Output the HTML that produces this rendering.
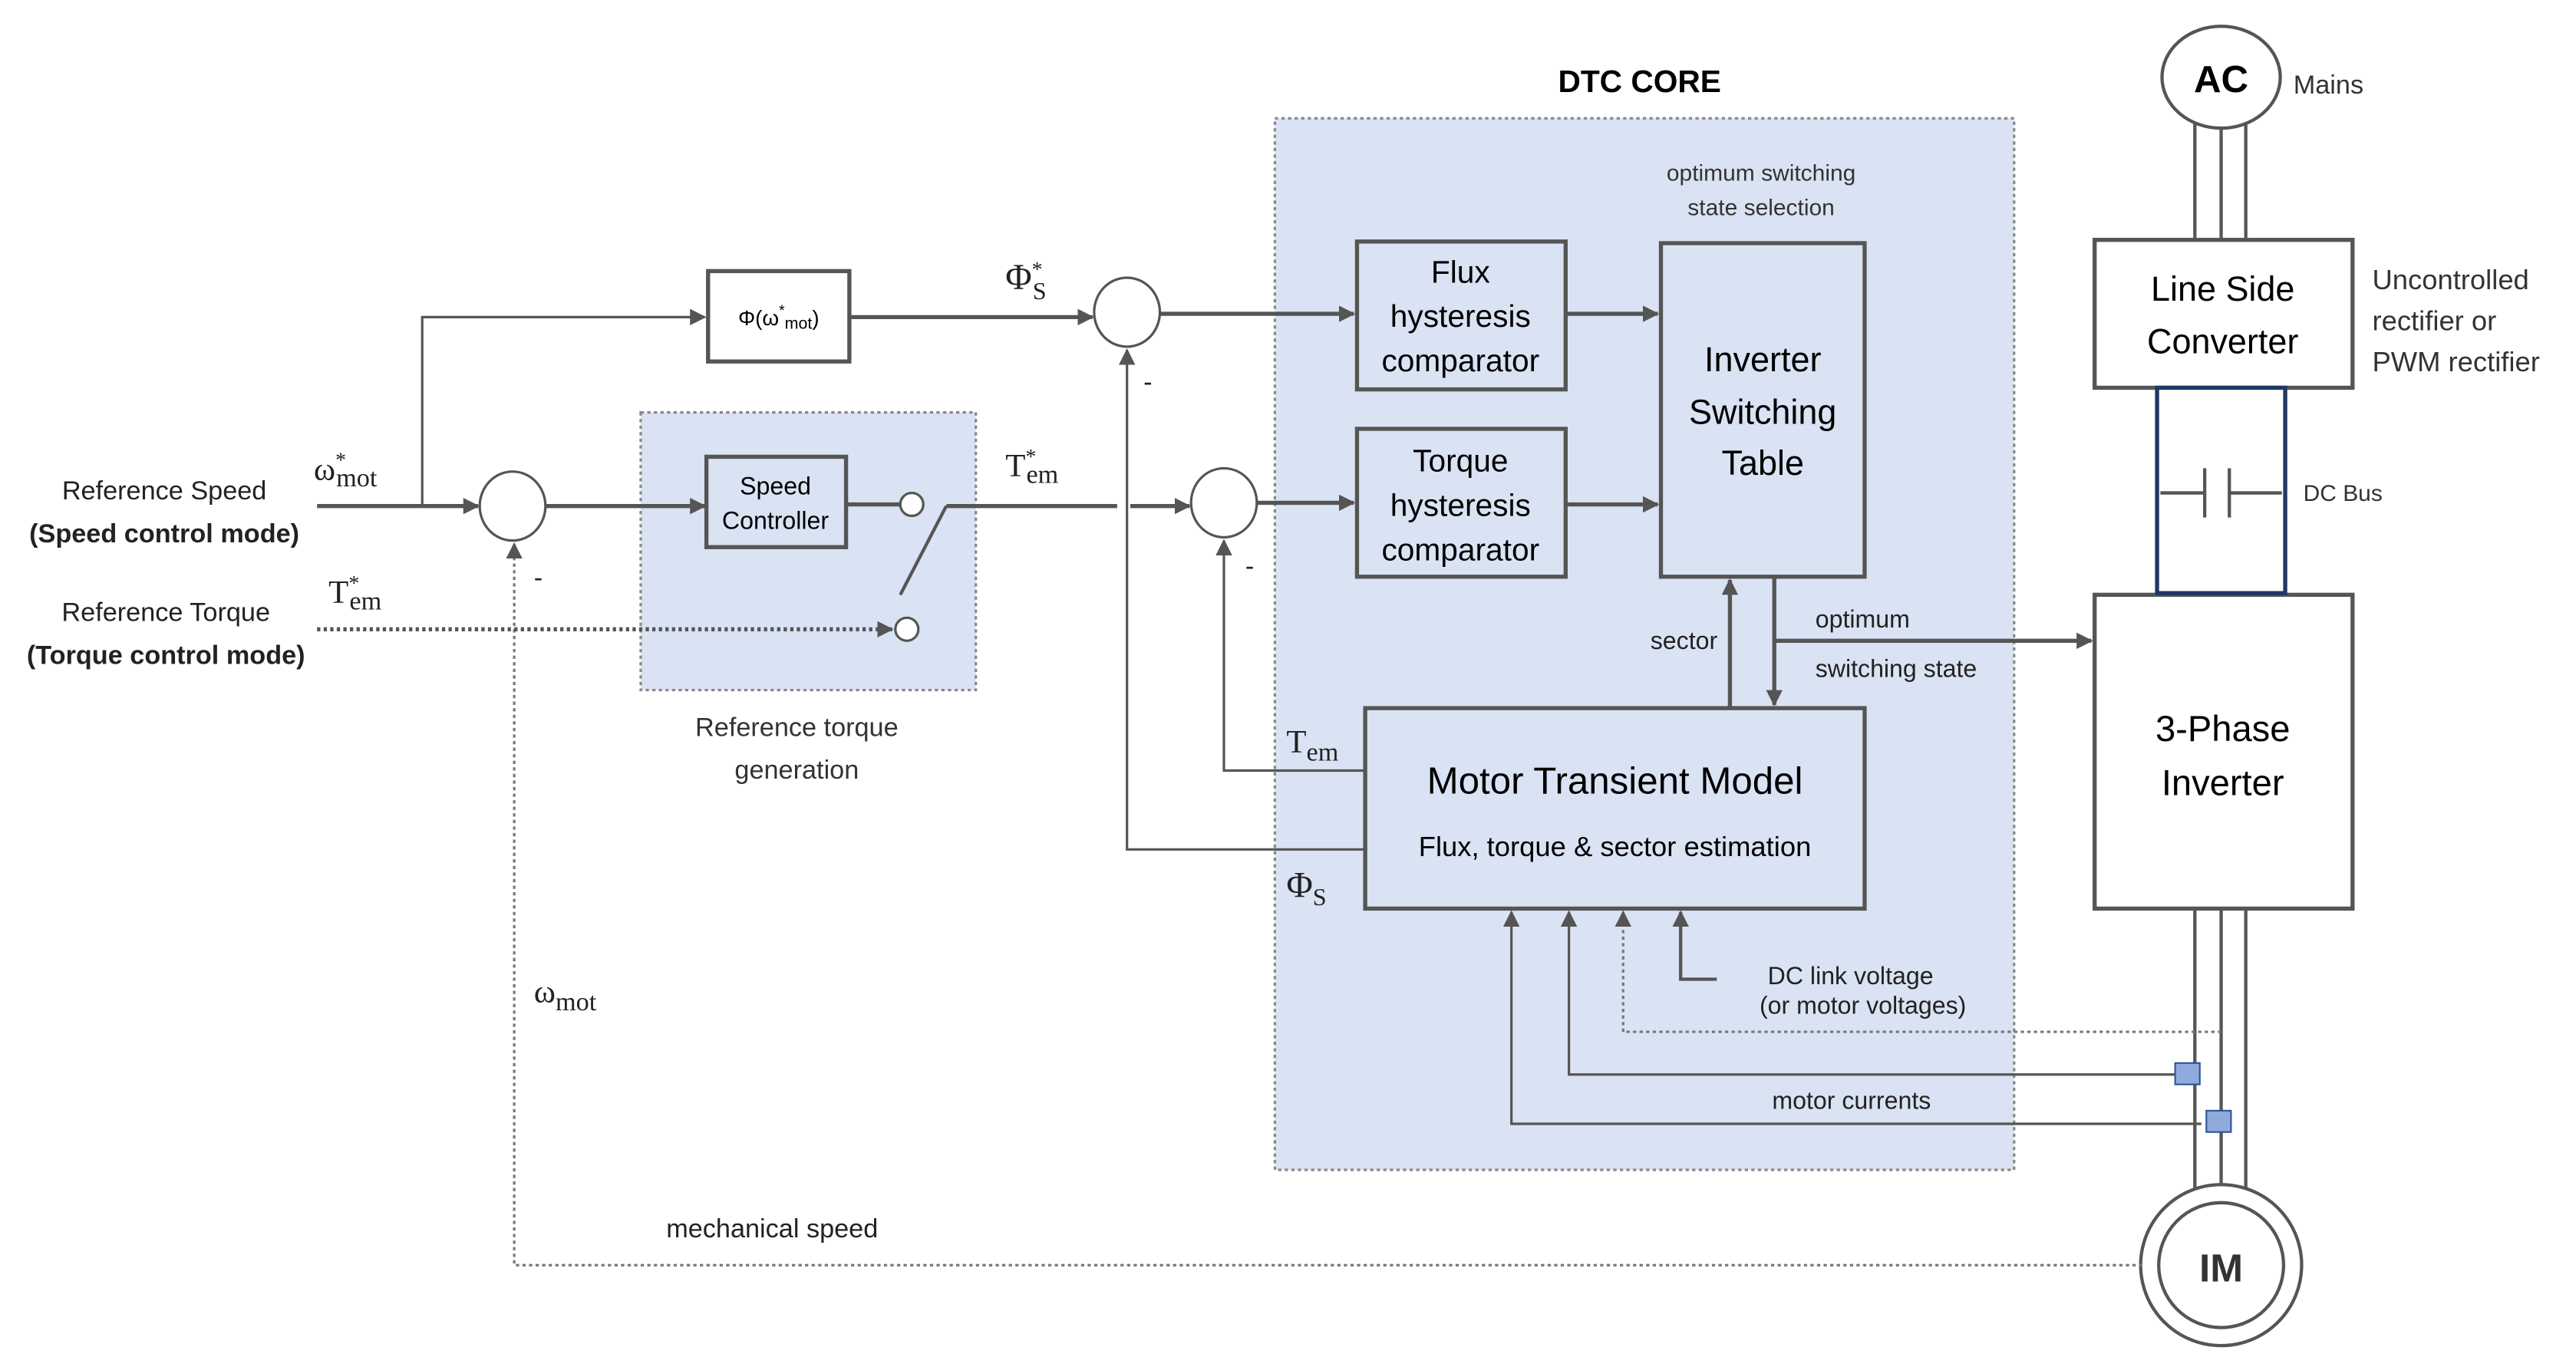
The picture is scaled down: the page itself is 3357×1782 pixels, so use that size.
<!DOCTYPE html>
<html><head><meta charset="utf-8"><style>html,body{margin:0;padding:0;background:#fff}svg{display:block}</style></head>
<body>
<svg width="3357" height="1782" viewBox="0 0 1568 832" preserveAspectRatio="none" xmlns="http://www.w3.org/2000/svg" font-family="Liberation Sans, sans-serif">
<defs>
<marker id="a" markerWidth="10" markerHeight="10" refX="9" refY="5" orient="auto" markerUnits="userSpaceOnUse"><path d="M0,0 L10,5 L0,10 Z" fill="#555"/></marker>
</defs>
<rect width="1568" height="832" fill="#fff"/>
<!-- DTC core -->
<rect x="776" y="72" width="450" height="640" fill="#dae3f3" stroke="#888" stroke-width="1.5" stroke-dasharray="2,2"/>
<text x="998" y="56" font-size="19" font-weight="bold" text-anchor="middle">DTC CORE</text>
<text x="1072" y="110" font-size="14" text-anchor="middle" fill="#333">optimum switching</text>
<text x="1072" y="131" font-size="14" text-anchor="middle" fill="#333">state selection</text>
<!-- ref torque gen -->
<rect x="390" y="251" width="204" height="169" fill="#dae3f3" stroke="#888" stroke-width="1.5" stroke-dasharray="2,2"/>
<text x="485" y="448" font-size="16" text-anchor="middle" fill="#333">Reference torque</text>
<text x="485" y="474" font-size="16" text-anchor="middle" fill="#333">generation</text>
<g stroke="#555" stroke-width="2.5" fill="#fff">
<rect x="431" y="165" width="86" height="55"/>
<rect x="430" y="278" width="85" height="55" fill="#dae3f3"/>
<rect x="826" y="147" width="127" height="90" fill="#dae3f3"/>
<rect x="826" y="261" width="127" height="90" fill="#dae3f3"/>
<rect x="1011" y="148" width="124" height="203" fill="#dae3f3"/>
<rect x="831" y="431" width="304" height="122" fill="#dae3f3"/>
<rect x="1275" y="146" width="157" height="90"/>
<rect x="1275" y="362" width="157" height="191"/>
</g>
<rect x="1313" y="236" width="78" height="125" fill="#fff" stroke="#1f3864" stroke-width="2.5"/>
<g stroke="#555" stroke-width="2">
<line x1="1315" y1="300" x2="1342" y2="300"/><line x1="1342" y1="285" x2="1342" y2="315"/>
<line x1="1357" y1="285" x2="1357" y2="315"/><line x1="1357" y1="300" x2="1389" y2="300"/>
</g>
<text x="1402" y="305" font-size="14" fill="#333">DC Bus</text>
<!-- AC -->
<g stroke="#555" stroke-width="2" fill="none">
<line x1="1336" y1="75" x2="1336" y2="146"/><line x1="1352" y1="78" x2="1352" y2="146"/><line x1="1367" y1="75" x2="1367" y2="146"/>
<line x1="1336" y1="553" x2="1336" y2="725"/><line x1="1352" y1="553" x2="1352" y2="732"/><line x1="1367" y1="553" x2="1367" y2="725"/>
</g>
<ellipse cx="1352" cy="47" rx="36" ry="31" fill="#fff" stroke="#555" stroke-width="2"/>
<text x="1352" y="56" font-size="23" font-weight="bold" text-anchor="middle">AC</text>
<text x="1396" y="57" font-size="16" fill="#333">Mains</text>
<circle cx="1352" cy="770" r="49" fill="#fff" stroke="#555" stroke-width="2"/>
<circle cx="1352" cy="770" r="38" fill="#fff" stroke="#555" stroke-width="2"/>
<text x="1352" y="780" font-size="24" font-weight="bold" text-anchor="middle" fill="#333">IM</text>
<text x="1353" y="183" font-size="21" text-anchor="middle">Line Side</text>
<text x="1353" y="215" font-size="21" text-anchor="middle">Converter</text>
<text x="1444" y="176" font-size="17" fill="#333">Uncontrolled</text>
<text x="1444" y="201" font-size="17" fill="#333">rectifier or</text>
<text x="1444" y="226" font-size="17" fill="#333">PWM rectifier</text>
<text x="1353" y="451" font-size="22" text-anchor="middle">3-Phase</text>
<text x="1353" y="484" font-size="22" text-anchor="middle">Inverter</text>
<!-- box texts -->
<text x="474" y="198" font-size="13" text-anchor="middle">Φ(ω<tspan font-size="9" dy="-6">*</tspan><tspan font-size="10" dy="8">mot</tspan><tspan dy="-2">)</tspan></text>
<text x="472" y="301" font-size="15" text-anchor="middle">Speed</text>
<text x="472" y="322" font-size="15" text-anchor="middle">Controller</text>
<g font-size="19" text-anchor="middle">
<text x="889" y="172">Flux</text><text x="889" y="199">hysteresis</text><text x="889" y="226">comparator</text>
<text x="889" y="287">Torque</text><text x="889" y="314">hysteresis</text><text x="889" y="341">comparator</text>
<text x="1073" y="226" font-size="21">Inverter</text><text x="1073" y="258" font-size="21">Switching</text><text x="1073" y="289" font-size="21">Table</text>
<text x="983" y="483" font-size="23">Motor Transient Model</text>
<text x="983" y="521" font-size="17">Flux, torque &amp; sector estimation</text>
</g>
<!-- sum circles -->
<g fill="#fff" stroke="#555" stroke-width="1.5">
<ellipse cx="312" cy="308" rx="20" ry="21"/>
<ellipse cx="686" cy="190" rx="20" ry="21"/>
<ellipse cx="745" cy="306" rx="20" ry="21"/>
<circle cx="555" cy="307" r="7"/>
<circle cx="552" cy="383" r="7"/>
</g>
<!-- connectors -->
<g stroke="#555" stroke-width="2.5" fill="none">
<line x1="193" y1="308" x2="291" y2="308" marker-end="url(#a)"/>
<line x1="332" y1="308" x2="429" y2="308" marker-end="url(#a)"/>
<line x1="515" y1="307" x2="548" y2="307"/>
<line x1="548" y1="362" x2="576" y2="308" stroke-width="2"/>
<line x1="576" y1="308" x2="680" y2="308"/>
<line x1="688" y1="308" x2="724" y2="308" marker-end="url(#a)"/>
<line x1="517" y1="193" x2="665" y2="193" marker-end="url(#a)"/>
<line x1="706" y1="191" x2="824" y2="191" marker-end="url(#a)"/>
<line x1="765" y1="306" x2="824" y2="306" marker-end="url(#a)"/>
<line x1="953" y1="191" x2="1009" y2="191" marker-end="url(#a)"/>
<line x1="953" y1="307" x2="1009" y2="307" marker-end="url(#a)"/>
<line x1="1053" y1="431" x2="1053" y2="353" marker-end="url(#a)"/>
<line x1="1080" y1="351" x2="1080" y2="429" marker-end="url(#a)"/>
<line x1="1080" y1="390" x2="1273" y2="390" marker-end="url(#a)"/>
</g>
<g stroke="#555" stroke-width="1.5" fill="none">
<polyline points="257,308 257,193 429,193" marker-end="url(#a)"/>
<polyline points="831,469 745,469 745,329" marker-end="url(#a)"/>
<polyline points="831,517 686,517 686,213" marker-end="url(#a)"/>
<polyline points="1340,684 920,684 920,555" marker-end="url(#a)"/>
<polyline points="1325,654 955,654 955,555" marker-end="url(#a)"/>
<polyline points="1045,596 1023,596 1023,555" marker-end="url(#a)" stroke-width="2"/>
<polyline points="1352,628 988,628 988,555" marker-end="url(#a)" stroke-dasharray="2,2" stroke="#777"/>
<polyline points="1304,770 313,770 313,331" marker-end="url(#a)" stroke-dasharray="2,2" stroke="#777"/>
<line x1="193" y1="383" x2="543" y2="383" stroke-dasharray="2,2" stroke-width="2.5" marker-end="url(#a)"/>
</g>
<rect x="1324" y="647" width="15" height="13" fill="#8faadc" stroke="#2f5597"/>
<rect x="1343" y="676" width="15" height="13" fill="#8faadc" stroke="#2f5597"/>
<!-- labels -->
<g font-size="16" fill="#222" text-anchor="middle">
<text x="100" y="304">Reference Speed</text>
<text x="100" y="330" font-weight="bold">(Speed control mode)</text>
<text x="101" y="378">Reference Torque</text>
<text x="101" y="404" font-weight="bold">(Torque control mode)</text>
<text x="470" y="753">mechanical speed</text>
<text x="1127" y="675" font-size="15">motor currents</text>
<text x="1025" y="395" font-size="15">sector</text>
</g>
<text x="1105" y="382" font-size="15" fill="#222">optimum</text>
<text x="1105" y="412" font-size="15" fill="#222">switching state</text>
<text x="1076" y="599" font-size="15" fill="#222">DC link voltage</text>
<text x="1071" y="617" font-size="15" fill="#222">(or motor voltages)</text>
<g font-family="Liberation Serif, serif" fill="#222">
<text x="191" y="292" font-size="20">ω<tspan font-size="13" dy="-8">*</tspan><tspan font-size="16" dx="-6" dy="12">mot</tspan></text>
<text x="200" y="367" font-size="20">T<tspan font-size="13" dy="-8">*</tspan><tspan font-size="16" dx="-6" dy="12">em</tspan></text>
<text x="612" y="290" font-size="20">T<tspan font-size="13" dy="-8">*</tspan><tspan font-size="16" dx="-6" dy="12">em</tspan></text>
<text x="612" y="176" font-size="22">Φ<tspan font-size="13" dy="-8">*</tspan><tspan font-size="15" dx="-6" dy="14">S</tspan></text>
<text x="783" y="458" font-size="20">T<tspan font-size="16" dy="5">em</tspan></text>
<text x="783" y="546" font-size="22">Φ<tspan font-size="15" dy="5">S</tspan></text>
<text x="325" y="610" font-size="20">ω<tspan font-size="16" dy="5">mot</tspan></text>
</g>
<g font-size="16" fill="#222">
<text x="325" y="357">-</text><text x="696" y="238">-</text><text x="758" y="350">-</text>
</g>
</svg>
</body></html>
